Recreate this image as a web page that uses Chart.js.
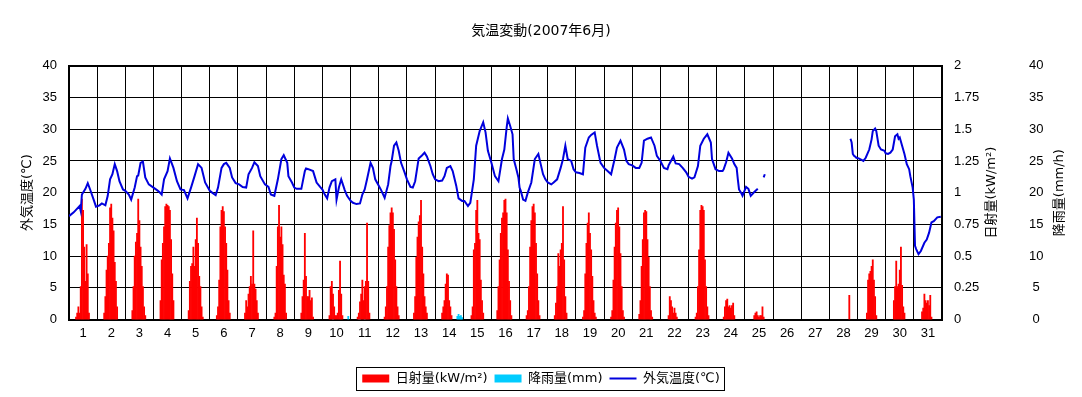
<!DOCTYPE html>
<html lang="ja">
<head>
<meta charset="utf-8">
<title>気温変動(2007年6月)</title>
<script src="https://cdn.jsdelivr.net/npm/chart.js@4.4.1/dist/chart.umd.min.js"></script>
<style>
    html, body { margin: 0; padding: 0; background: #ffffff; }
</style>
</head>
<body>
<canvas id="tempChart" width="1082" height="397"></canvas>
<script>
"use strict";

/*==========================================================
    DATA
==========================================================*/

const chartTitle = "気温変動(2007年6月)";

const legendLabels = ["日射量(kW/m²)", "降雨量(mm)", "外気温度(℃)"];

const leftAxisTitle = "外気温度(℃)";
const solarAxisTitle = "日射量(kW/m²)";
const rainAxisTitle = "降雨量(mm/h)";

const dayLabels = [
    "1", "2", "3", "4", "5", "6", "7", "8", "9", "10",
    "11", "12", "13", "14", "15", "16", "17", "18", "19", "20",
    "21", "22", "23", "24", "25", "26", "27", "28", "29", "30", "31"
];

// hours since 1st 00:00, one row per day; null = sensor gap
const tempHours = [
    0, 4, 9, 10, 11, 14, 16, 18, 21, 23,
    26, 28, 31, 33, 35, 37, 39, 41, 43, 46,
    48, 51, 53, 56, 58, 59, 61, 63, 65, 68,
    72, 75, 77, 79, 81, 84, 86, 89, 92, 95,
    98, 101, 104, 107, 110, 113, 116,
    120, 122, 125, 127, 130, 132, 134, 137, 139, 142,
    145, 148, 151, 153, 156, 158, 161, 163, 167,
    170, 172, 175, 178, 181, 183, 186, 187, 190,
    192, 194, 198, 201, 202, 204, 208, 211, 214,
    216, 218, 220, 222, 224, 227, 228, 230, 232, 235, 237,
    240, 242, 245, 248, 250, 252, 254, 257, 259, 261,
    264, 266, 269, 272, 274, 275, 277, 279, 281, 283, 286,
    288, 291, 293, 295, 298, 301, 303, 305, 308, 310,
    312, 315, 318, 320, 322, 325, 327, 330, 332, 335,
    337, 340, 342, 345, 347, 350, 353, 355, 357,
    360, 363, 366, 369, 371, 373, 374, 376, 378, 379, 381, 383,
    384, 385, 387, 389, 391, 394, 397, 400, 402, 404, 406,
    408, 411, 413, 416, 419, 421, 423, 425, 428, 430,
    432, 435, 438, 440, 443, 445, 448, 450, 453,
    456, 459, 462, 465, 467, 470, 473, 475, 477,
    480, 483, 486, 488, 490, 493, 496, 499, 501,
    504, 507, 510, 511, 513, 515, 517, 520, 523, 526,
    528, 531, 533, 536, 538, 541, 544, 547, 548, 551,
    554, 557, 558, 560, 562, 565, 567, 569, 570, 571, 573, 574,
    577, 579, 581, 584, 587, 588, 592, 593, 594,
    666, 667, 668, 669, 670, 671,
    673, 675, 677, 679, 682, 684, 685, 687, 688, 690, 692, 695,
    696, 698, 700, 702, 704, 706, 707, 708, 710, 712, 714, 716, 717, 719,
    720, 721, 722, 724, 726, 729, 731, 733, 735, 737, 740, 743
];

const tempValues = [
    16.3, 16.9, 17.9, 17.1, 19.7, 20.6, 21.5, 20.5, 18.9, 17.8,
    18.0, 18.3, 18.0, 19.5, 22.1, 22.9, 24.5, 23.4, 21.8, 20.5,
    20.3, 19.7, 18.9, 20.8, 22.6, 22.7, 24.7, 24.9, 22.4, 21.3,
    20.8, 20.4, 20.1, 19.7, 22.1, 23.4, 25.4, 23.9, 21.8, 20.5,
    20.4, 19.1, 20.8, 22.6, 24.5, 23.9, 21.6,
    20.3, 20.0, 19.6, 20.8, 23.9, 24.5, 24.7, 23.9, 22.4, 21.5,
    21.3, 20.9, 20.8, 22.9, 23.9, 24.8, 24.2, 22.6, 21.3,
    20.9, 19.7, 19.5, 22.1, 25.3, 25.9, 24.7, 22.6, 21.6,
    20.8, 20.6, 20.6, 23.4, 23.8, 23.7, 23.4, 21.6, 20.9,
    20.5, 19.7, 19.1, 20.8, 21.8, 22.1, 18.9, 20.8, 22.1, 20.4, 19.5,
    18.7, 18.4, 18.2, 18.3, 19.7, 20.5, 22.1, 24.7, 23.9, 22.1,
    21.1, 20.4, 19.2, 21.3, 24.2, 25.0, 27.4, 27.9, 26.6, 24.7, 23.2,
    22.1, 20.9, 20.8, 21.8, 25.4, 25.9, 26.3, 25.7, 24.2, 22.9,
    22.1, 21.8, 21.9, 22.6, 23.9, 24.2, 23.4, 21.1, 19.1, 18.7,
    18.7, 17.9, 18.4, 22.1, 27.4, 29.7, 31.1, 29.5, 26.6,
    24.7, 22.6, 21.8, 25.3, 26.8, 30.3, 31.7, 30.5, 29.2, 25.3, 23.9, 22.4,
    20.8, 20.3, 18.9, 18.7, 20.0, 21.6, 25.3, 26.1, 24.5, 22.9, 22.1,
    21.6, 21.3, 21.6, 22.1, 23.9, 25.3, 27.4, 25.3, 25.0, 23.7,
    23.2, 23.1, 22.9, 27.1, 28.7, 29.1, 29.5, 27.4, 24.7,
    23.9, 23.4, 22.9, 25.3, 27.1, 28.2, 26.8, 25.0, 24.5,
    24.3, 23.9, 23.9, 24.7, 28.2, 28.5, 28.7, 27.4, 25.8,
    25.0, 23.9, 23.7, 24.3, 25.0, 25.7, 24.6, 24.5, 23.9, 23.2,
    22.5, 22.2, 22.4, 24.2, 27.4, 28.5, 29.2, 27.9, 25.3, 23.7,
    23.4, 23.4, 23.7, 24.8, 26.3, 25.4, 24.5, 23.9, 22.1, 20.5, 19.9, 19.5,
    20.9, 20.6, 19.5, 20.1, 20.6, null, 22.4, 22.9, null,
    28.5, 27.9, 26.1, 25.8, 25.7, 25.5,
    25.4, 25.2, 25.0, 25.5, 26.8, 28.4, 29.7, 30.1, 29.7, 27.4, 26.8, 26.6,
    26.2, 26.1, 26.3, 26.8, 28.9, 29.2, 28.5, 28.7, 27.4, 26.1, 24.5, 23.7, 22.6, 20.8,
    18.9, 11.6, 11.1, 10.3, 10.8, 12.1, 12.6, 13.7, 15.3, 15.5, 16.1, 16.2
];

// solar radiation kW/m2, one row per day, hours 5..18
const solarFirstHour = 5;

const solarByDay = [
    [0, 0.02, 0.05, 0.10, 0.05, 0.26, 0.95, 0.86, 0.57, 0.30, 0.59, 0.36, 0.05, 0],
    [0, 0.05, 0.18, 0.39, 0.50, 0.60, 0.88, 0.91, 0.80, 0.70, 0.45, 0.30, 0.10, 0],
    [0, 0.07, 0.26, 0.50, 0.61, 0.68, 0.95, 0.78, 0.57, 0.42, 0.26, 0.10, 0.03, 0],
    [0, 0.15, 0.47, 0.60, 0.73, 0.89, 0.91, 0.90, 0.89, 0.86, 0.63, 0.36, 0.15, 0],
    [0, 0.07, 0.30, 0.42, 0.44, 0.57, 0.42, 0.63, 0.80, 0.60, 0.34, 0.26, 0.10, 0.02],
    [0, 0.03, 0.10, 0.31, 0.73, 0.86, 0.89, 0.85, 0.73, 0.60, 0.39, 0.15, 0.05, 0],
    [0, 0.05, 0.15, 0.10, 0.20, 0.26, 0.34, 0.28, 0.70, 0.28, 0.24, 0.15, 0.05, 0],
    [0, 0, 0.02, 0.05, 0.42, 0.73, 0.90, 0.65, 0.73, 0.59, 0.35, 0.28, 0.05, 0],
    [0, 0.05, 0.18, 0.31, 0.68, 0.34, 0.18, 0.18, 0.23, 0.15, 0.17, 0.02, 0, 0],
    [0, 0.03, 0.26, 0.30, 0.20, 0.10, 0.03, 0.03, 0.05, 0.23, 0.46, 0.20, 0.03, 0],
    [0, 0.02, 0.05, 0.14, 0.20, 0.31, 0.15, 0.26, 0.30, 0.76, 0.30, 0.05, 0, 0],
    [0.02, 0.10, 0.26, 0.57, 0.74, 0.84, 0.88, 0.84, 0.71, 0.47, 0.26, 0.10, 0.03, 0],
    [0, 0.05, 0.18, 0.49, 0.65, 0.77, 0.82, 0.94, 0.57, 0.36, 0.18, 0.10, 0.05, 0],
    [0, 0.05, 0.10, 0.15, 0.28, 0.36, 0.35, 0.15, 0.10, 0.03, 0, 0, 0, 0],
    [0, 0, 0.03, 0.10, 0.55, 0.60, 0.86, 0.94, 0.68, 0.63, 0.31, 0.15, 0.05, 0],
    [0.07, 0.26, 0.47, 0.68, 0.80, 0.84, 0.94, 0.95, 0.84, 0.55, 0.30, 0.15, 0.03, 0],
    [0, 0.03, 0.07, 0.26, 0.57, 0.78, 0.89, 0.91, 0.84, 0.60, 0.36, 0.15, 0.03, 0],
    [0, 0.03, 0.13, 0.26, 0.52, 0.42, 0.55, 0.60, 0.89, 0.47, 0.18, 0.05, 0, 0],
    [0, 0.02, 0.07, 0.36, 0.60, 0.76, 0.84, 0.68, 0.55, 0.34, 0.15, 0.05, 0.02, 0],
    [0, 0.02, 0.07, 0.31, 0.57, 0.76, 0.86, 0.88, 0.73, 0.52, 0.26, 0.07, 0.02, 0],
    [0, 0.04, 0.15, 0.42, 0.63, 0.84, 0.86, 0.85, 0.63, 0.49, 0.26, 0.07, 0.02, 0],
    [0, 0, 0.03, 0.18, 0.15, 0.10, 0.05, 0.09, 0.05, 0.02, 0, 0, 0, 0],
    [0, 0.02, 0.05, 0.26, 0.55, 0.86, 0.90, 0.89, 0.86, 0.47, 0.26, 0.10, 0.03, 0],
    [0, 0.02, 0.10, 0.15, 0.16, 0.10, 0.11, 0.09, 0.11, 0.13, 0.03, 0, 0, 0],
    [0, 0, 0, 0.03, 0.05, 0.06, 0.03, 0.02, 0.03, 0.03, 0.10, 0.02, 0, 0],
    [0, 0, 0, 0, 0, 0, 0, 0, 0, 0, 0, 0, 0, 0],
    [0, 0, 0, 0, 0, 0, 0, 0, 0, 0, 0, 0, 0, 0],
    [0, 0, 0, 0, 0, 0, 0, 0, 0, 0, 0, 0, 0.19, 0],
    [0, 0, 0, 0.05, 0.31, 0.36, 0.38, 0.42, 0.47, 0.31, 0.18, 0.03, 0, 0],
    [0, 0, 0.15, 0.26, 0.46, 0.26, 0.28, 0.39, 0.57, 0.27, 0.10, 0.05, 0, 0],
    [0, 0, 0.06, 0.09, 0.20, 0.15, 0.13, 0.15, 0.11, 0.19, 0.02, 0, 0, 0]
];

// rainfall mm/h, hours since 1st 00:00
const rainHours = [225, 238, 247, 248, 252, 331, 332, 333, 334, 335];
const rainValues = [0.3, 0.5, 0.3, 0.3, 0.2, 0.5, 0.8, 0.5, 0.6, 0.3];



/*==========================================================
    BUILD POINTS
==========================================================*/

const tempPoints = tempHours.map((h, i) => ({ x: h, y: tempValues[i] }));

const solarPoints = [];

solarByDay.forEach((row, day) => {

    row.forEach((v, k) => {

        if (v > 0) solarPoints.push({ x: day * 24 + solarFirstHour + k, y: v });

    });

});

const rainPoints = rainHours.map((h, i) => ({ x: h, y: rainValues[i] }));



/*==========================================================
    STYLE
==========================================================*/

const TEXT_FAMILY = "'DejaVu Sans', 'Noto Sans CJK JP', sans-serif";
const TICK_FONT = { family: "'Liberation Sans', Arial, sans-serif", size: 13 };



/*==========================================================
    PLUGINS
    Right-hand titles read bottom-to-top like the left one,
    which Chart.js doesn't do for right axes.
==========================================================*/

const axisTitlePlugin = {

    id: "axisTitles",

    afterDraw(chart) {

        const { ctx, chartArea } = chart;
        const midY = (chartArea.top + chartArea.bottom) / 2;

        const titles = [
            [leftAxisTitle, chartArea.left - 41],
            [solarAxisTitle, chartArea.right + 50],
            [rainAxisTitle, chartArea.right + 118]
        ];

        ctx.save();
        ctx.font = "13px " + TEXT_FAMILY;
        ctx.fillStyle = "#000000";
        ctx.textAlign = "center";
        ctx.textBaseline = "middle";

        titles.forEach(([text, x]) => {

            ctx.save();
            ctx.translate(x, midY);
            ctx.rotate(-Math.PI / 2);
            ctx.fillText(text, 0, 0);
            ctx.restore();

        });

        ctx.restore();

    }

};

const legendFramePlugin = {

    id: "legendFrame",

    afterDraw(chart) {

        const boxes = chart.legend && chart.legend.legendHitBoxes;

        if (!boxes || !boxes.length) return;

        const left = Math.min(...boxes.map((b) => b.left)) - 6;
        const right = Math.max(...boxes.map((b) => b.left + b.width)) + 5;
        const top = boxes[0].top - 5;
        const bottom = boxes[0].top + boxes[0].height + 5;

        const ctx = chart.ctx;

        ctx.save();
        ctx.strokeStyle = "#000000";
        ctx.lineWidth = 1;
        ctx.strokeRect(Math.round(left) + 0.5, Math.round(top) + 0.5,
            Math.round(right - left), Math.round(bottom - top));
        ctx.restore();

    }

};



/*==========================================================
    CHART
==========================================================*/

new Chart(document.getElementById("tempChart"), {

    type: "bar",

    data: {

        datasets: [

            {
                label: legendLabels[0],
                type: "bar",
                data: solarPoints,
                yAxisID: "y1",
                backgroundColor: "#ff0000",
                borderWidth: 0,
                grouped: false,
                barPercentage: 1,
                categoryPercentage: 1,
                pointStyle: "rect",
                order: 1
            },

            {
                label: legendLabels[1],
                type: "bar",
                data: rainPoints,
                yAxisID: "y2",
                backgroundColor: "#00ccff",
                borderWidth: 0,
                grouped: false,
                barPercentage: 1,
                categoryPercentage: 1,
                pointStyle: "rect",
                order: 2
            },

            {
                label: legendLabels[2],
                type: "line",
                data: tempPoints,
                yAxisID: "y",
                borderColor: "#0000dd",
                backgroundColor: "#0000dd",
                pointBorderColor: "#0000dd",
                borderWidth: 2,
                pointRadius: 0,
                pointStyle: "line",
                tension: 0,
                spanGaps: false,
                order: 0
            }

        ]

    },

    options: {

        responsive: false,
        animation: false,

        layout: { padding: { bottom: 2 } },

        plugins: {

            title: {
                display: true,
                text: chartTitle,
                color: "#000000",
                font: { family: TEXT_FAMILY, size: 14, weight: "normal" },
                padding: { top: 23, bottom: 26 }
            },

            legend: {
                position: "bottom",
                labels: {
                    usePointStyle: true,
                    pointStyleWidth: 27,
                    boxHeight: 8,
                    padding: 7,
                    color: "#000000",
                    font: { family: TEXT_FAMILY, size: 13 },
                    sort: (a, b) => a.datasetIndex - b.datasetIndex
                }
            },

            tooltip: { enabled: false }

        },

        scales: {

            x: {
                type: "linear",
                min: 0,
                max: 744,
                offset: false,
                ticks: {
                    stepSize: 12,
                    autoSkip: false,
                    maxRotation: 0,
                    minRotation: 0,
                    padding: 6,
                    color: "#000000",
                    font: TICK_FONT,
                    callback: (value) =>
                        value % 24 === 12 ? dayLabels[(value - 12) / 24] : ""
                },
                grid: {
                    offset: false,
                    drawTicks: false,
                    color: (ctx) =>
                        ctx.tick && ctx.tick.value % 24 === 0 ? "#000000" : "rgba(0,0,0,0)",
                    lineWidth: (ctx) => (ctx.tick && ctx.tick.value === 744 ? 2 : 1)
                },
                border: { color: "#000000", width: 2 },
                afterFit(scale) { scale.height = 45.5; }
            },

            y: {
                position: "left",
                min: 0,
                max: 40,
                ticks: {
                    stepSize: 5,
                    padding: 12,
                    color: "#000000",
                    font: TICK_FONT,
                    callback: (value) => String(value)
                },
                grid: {
                    drawTicks: false,
                    color: "#000000",
                    lineWidth: (ctx) => (ctx.tick && ctx.tick.value === 40 ? 2 : 1)
                },
                border: { color: "#000000", width: 2 },
                afterFit(scale) { scale.width = 69; }
            },

            y1: {
                position: "right",
                min: 0,
                max: 2,
                ticks: {
                    stepSize: 0.25,
                    padding: 12,
                    color: "#000000",
                    font: TICK_FONT,
                    callback: (value) => String(value)
                },
                grid: { display: false, drawTicks: false },
                border: { color: "#000000", width: 2 },
                afterFit(scale) { scale.width = 78; }
            },

            y2: {
                position: "right",
                min: 0,
                max: 40,
                ticks: {
                    stepSize: 5,
                    padding: 9,
                    crossAlign: "center",
                    color: "#000000",
                    font: TICK_FONT,
                    callback: (value) => String(value)
                },
                grid: { display: false, drawTicks: false },
                border: { display: false },
                afterFit(scale) { scale.width = 62; }
            }

        }

    },

    plugins: [axisTitlePlugin, legendFramePlugin]

});
</script>
</body>
</html>
